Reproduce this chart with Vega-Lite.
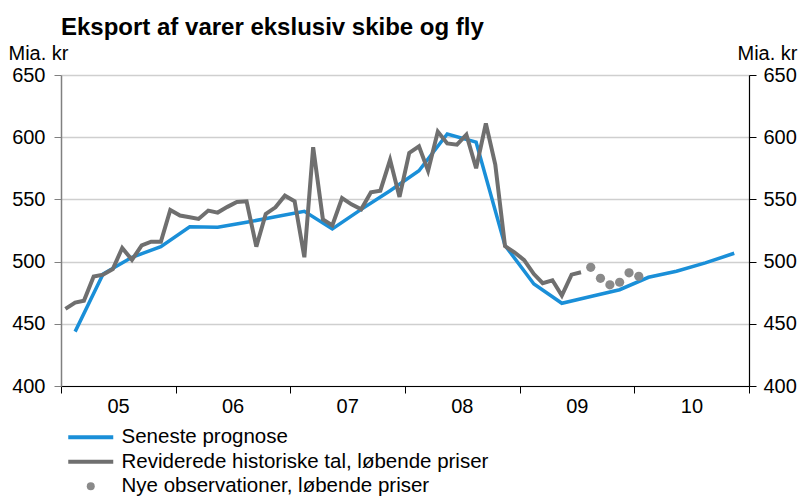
{
  "$schema": "https://vega.github.io/schema/vega-lite/v6.json",
  "width": 688,
  "height": 311,
  "autosize": {"type": "none"},
  "padding": {"left": 61, "top": 75, "right": 52, "bottom": 112},
  "background": "white",
  "config": {
    "font": "Liberation Sans",
    "view": {"stroke": null},
    "axis": {"labelFont": "Liberation Sans", "titleFont": "Liberation Sans", "labelColor": "#000", "titleColor": "#000"}
  },
  "title": {
    "text": "Eksport af varer ekslusiv skibe og fly",
    "anchor": "start",
    "frame": "group",
    "fontSize": 24,
    "fontWeight": "bold",
    "font": "Liberation Sans",
    "color": "#000",
    "offset": 3
  },
  "datasets": {
    "prognose": [
      {"date": "2005-02-15T00:00:00", "value": 443.7, "serie": "Seneste prognose"},
      {"date": "2005-05-15T00:00:00", "value": 490, "serie": "Seneste prognose"},
      {"date": "2005-08-15T00:00:00", "value": 503.5, "serie": "Seneste prognose"},
      {"date": "2005-11-15T00:00:00", "value": 512, "serie": "Seneste prognose"},
      {"date": "2006-02-15T00:00:00", "value": 528, "serie": "Seneste prognose"},
      {"date": "2006-05-15T00:00:00", "value": 527.6, "serie": "Seneste prognose"},
      {"date": "2006-08-15T00:00:00", "value": 531.6, "serie": "Seneste prognose"},
      {"date": "2006-11-15T00:00:00", "value": 536, "serie": "Seneste prognose"},
      {"date": "2007-02-15T00:00:00", "value": 540.4, "serie": "Seneste prognose"},
      {"date": "2007-05-15T00:00:00", "value": 526.3, "serie": "Seneste prognose"},
      {"date": "2007-08-15T00:00:00", "value": 542, "serie": "Seneste prognose"},
      {"date": "2007-11-15T00:00:00", "value": 557, "serie": "Seneste prognose"},
      {"date": "2008-02-15T00:00:00", "value": 573, "serie": "Seneste prognose"},
      {"date": "2008-05-15T00:00:00", "value": 602.6, "serie": "Seneste prognose"},
      {"date": "2008-08-15T00:00:00", "value": 596, "serie": "Seneste prognose"},
      {"date": "2008-11-15T00:00:00", "value": 513, "serie": "Seneste prognose"},
      {"date": "2009-02-15T00:00:00", "value": 482, "serie": "Seneste prognose"},
      {"date": "2009-05-15T00:00:00", "value": 466.5, "serie": "Seneste prognose"},
      {"date": "2009-08-15T00:00:00", "value": 472, "serie": "Seneste prognose"},
      {"date": "2009-11-15T00:00:00", "value": 477.4, "serie": "Seneste prognose"},
      {"date": "2010-02-15T00:00:00", "value": 487.4, "serie": "Seneste prognose"},
      {"date": "2010-05-15T00:00:00", "value": 492.2, "serie": "Seneste prognose"},
      {"date": "2010-08-15T00:00:00", "value": 499, "serie": "Seneste prognose"},
      {"date": "2010-11-15T00:00:00", "value": 506.7, "serie": "Seneste prognose"}
    ],
    "historisk": [
      {"date": "2005-01-15T00:00:00", "value": 462, "serie": "Reviderede historiske tal, løbende priser"},
      {"date": "2005-02-15T00:00:00", "value": 467, "serie": "Reviderede historiske tal, løbende priser"},
      {"date": "2005-03-15T00:00:00", "value": 468.6, "serie": "Reviderede historiske tal, løbende priser"},
      {"date": "2005-04-15T00:00:00", "value": 488, "serie": "Reviderede historiske tal, løbende priser"},
      {"date": "2005-05-15T00:00:00", "value": 489.5, "serie": "Reviderede historiske tal, løbende priser"},
      {"date": "2005-06-15T00:00:00", "value": 494, "serie": "Reviderede historiske tal, løbende priser"},
      {"date": "2005-07-15T00:00:00", "value": 511, "serie": "Reviderede historiske tal, løbende priser"},
      {"date": "2005-08-15T00:00:00", "value": 501.4, "serie": "Reviderede historiske tal, løbende priser"},
      {"date": "2005-09-15T00:00:00", "value": 513, "serie": "Reviderede historiske tal, løbende priser"},
      {"date": "2005-10-15T00:00:00", "value": 516, "serie": "Reviderede historiske tal, løbende priser"},
      {"date": "2005-11-15T00:00:00", "value": 516, "serie": "Reviderede historiske tal, løbende priser"},
      {"date": "2005-12-15T00:00:00", "value": 541.5, "serie": "Reviderede historiske tal, løbende priser"},
      {"date": "2006-01-15T00:00:00", "value": 537, "serie": "Reviderede historiske tal, løbende priser"},
      {"date": "2006-02-15T00:00:00", "value": 535.6, "serie": "Reviderede historiske tal, løbende priser"},
      {"date": "2006-03-15T00:00:00", "value": 534.3, "serie": "Reviderede historiske tal, løbende priser"},
      {"date": "2006-04-15T00:00:00", "value": 541, "serie": "Reviderede historiske tal, løbende priser"},
      {"date": "2006-05-15T00:00:00", "value": 539.4, "serie": "Reviderede historiske tal, løbende priser"},
      {"date": "2006-06-15T00:00:00", "value": 544, "serie": "Reviderede historiske tal, løbende priser"},
      {"date": "2006-07-15T00:00:00", "value": 548, "serie": "Reviderede historiske tal, løbende priser"},
      {"date": "2006-08-15T00:00:00", "value": 548.5, "serie": "Reviderede historiske tal, løbende priser"},
      {"date": "2006-09-15T00:00:00", "value": 512, "serie": "Reviderede historiske tal, løbende priser"},
      {"date": "2006-10-15T00:00:00", "value": 538.3, "serie": "Reviderede historiske tal, løbende priser"},
      {"date": "2006-11-15T00:00:00", "value": 543.6, "serie": "Reviderede historiske tal, løbende priser"},
      {"date": "2006-12-15T00:00:00", "value": 553, "serie": "Reviderede historiske tal, løbende priser"},
      {"date": "2007-01-15T00:00:00", "value": 548.5, "serie": "Reviderede historiske tal, løbende priser"},
      {"date": "2007-02-15T00:00:00", "value": 503.5, "serie": "Reviderede historiske tal, løbende priser"},
      {"date": "2007-03-15T00:00:00", "value": 592, "serie": "Reviderede historiske tal, løbende priser"},
      {"date": "2007-04-15T00:00:00", "value": 534, "serie": "Reviderede historiske tal, løbende priser"},
      {"date": "2007-05-15T00:00:00", "value": 529, "serie": "Reviderede historiske tal, løbende priser"},
      {"date": "2007-06-15T00:00:00", "value": 551, "serie": "Reviderede historiske tal, løbende priser"},
      {"date": "2007-07-15T00:00:00", "value": 546, "serie": "Reviderede historiske tal, løbende priser"},
      {"date": "2007-08-15T00:00:00", "value": 542, "serie": "Reviderede historiske tal, løbende priser"},
      {"date": "2007-09-15T00:00:00", "value": 555.7, "serie": "Reviderede historiske tal, løbende priser"},
      {"date": "2007-10-15T00:00:00", "value": 557, "serie": "Reviderede historiske tal, løbende priser"},
      {"date": "2007-11-15T00:00:00", "value": 581.8, "serie": "Reviderede historiske tal, løbende priser"},
      {"date": "2007-12-15T00:00:00", "value": 552, "serie": "Reviderede historiske tal, løbende priser"},
      {"date": "2008-01-15T00:00:00", "value": 587.4, "serie": "Reviderede historiske tal, løbende priser"},
      {"date": "2008-02-15T00:00:00", "value": 592.7, "serie": "Reviderede historiske tal, løbende priser"},
      {"date": "2008-03-15T00:00:00", "value": 573, "serie": "Reviderede historiske tal, løbende priser"},
      {"date": "2008-04-15T00:00:00", "value": 604.5, "serie": "Reviderede historiske tal, løbende priser"},
      {"date": "2008-05-15T00:00:00", "value": 595, "serie": "Reviderede historiske tal, løbende priser"},
      {"date": "2008-06-15T00:00:00", "value": 594, "serie": "Reviderede historiske tal, løbende priser"},
      {"date": "2008-07-15T00:00:00", "value": 602, "serie": "Reviderede historiske tal, løbende priser"},
      {"date": "2008-08-15T00:00:00", "value": 575, "serie": "Reviderede historiske tal, løbende priser"},
      {"date": "2008-09-15T00:00:00", "value": 611, "serie": "Reviderede historiske tal, løbende priser"},
      {"date": "2008-10-15T00:00:00", "value": 578, "serie": "Reviderede historiske tal, løbende priser"},
      {"date": "2008-11-15T00:00:00", "value": 512.5, "serie": "Reviderede historiske tal, løbende priser"},
      {"date": "2008-12-15T00:00:00", "value": 507.5, "serie": "Reviderede historiske tal, løbende priser"},
      {"date": "2009-01-15T00:00:00", "value": 501.2, "serie": "Reviderede historiske tal, løbende priser"},
      {"date": "2009-02-15T00:00:00", "value": 490, "serie": "Reviderede historiske tal, løbende priser"},
      {"date": "2009-03-15T00:00:00", "value": 482.6, "serie": "Reviderede historiske tal, løbende priser"},
      {"date": "2009-04-15T00:00:00", "value": 485, "serie": "Reviderede historiske tal, løbende priser"},
      {"date": "2009-05-15T00:00:00", "value": 472.7, "serie": "Reviderede historiske tal, løbende priser"},
      {"date": "2009-06-15T00:00:00", "value": 489.5, "serie": "Reviderede historiske tal, løbende priser"},
      {"date": "2009-07-15T00:00:00", "value": 491.4, "serie": "Reviderede historiske tal, løbende priser"}
    ],
    "nye": [
      {"date": "2009-08-15T00:00:00", "value": 495.4, "serie": "Nye observationer, løbende priser"},
      {"date": "2009-09-15T00:00:00", "value": 486.6, "serie": "Nye observationer, løbende priser"},
      {"date": "2009-10-15T00:00:00", "value": 481.3, "serie": "Nye observationer, løbende priser"},
      {"date": "2009-11-15T00:00:00", "value": 483.4, "serie": "Nye observationer, løbende priser"},
      {"date": "2009-12-15T00:00:00", "value": 491, "serie": "Nye observationer, løbende priser"},
      {"date": "2010-01-15T00:00:00", "value": 488.2, "serie": "Nye observationer, løbende priser"}
    ]
  },
  "resolve": {"axis": {"y": "independent"}},
  "layer": [
    {
      "data": {"name": "prognose"},
      "mark": {"type": "line", "strokeWidth": 3.5, "strokeJoin": "miter"},
      "encoding": {
        "x": {
          "field": "date", "type": "temporal",
          "scale": {"domain": [{"year": 2005, "month": 1, "date": 1}, {"year": 2011, "month": 1, "date": 1}]},
          "axis": {
            "title": null,
            "values": [{"year": 2005, "month": 1, "date": 1}, {"year": 2006, "month": 1, "date": 1}, {"year": 2007, "month": 1, "date": 1}, {"year": 2008, "month": 1, "date": 1}, {"year": 2009, "month": 1, "date": 1}, {"year": 2010, "month": 1, "date": 1}, {"year": 2011, "month": 1, "date": 1}],
            "labelExpr": "year(datum.value) >= 2011 ? '' : timeFormat(datum.value, '%y')",
            "labelOffset": 57,
            "labelFontSize": 20,
            "labelPadding": 3,
            "labelFlush": false,
            "labelBound": false,
            "labelOverlap": false,
            "tickSize": 7,
            "tickColor": "#000",
            "tickWidth": 1,
            "domainColor": "#000",
            "domainWidth": 1.2,
            "grid": false
          }
        },
        "y": {
          "field": "value", "type": "quantitative",
          "scale": {"domain": [400, 650], "nice": false, "zero": false},
          "axis": {
            "orient": "left",
            "values": [400, 450, 500, 550, 600, 650],
            "title": "Mia. kr",
            "titleAngle": 0,
            "titleAlign": "left",
            "titleBaseline": "alphabetic",
            "titleX": -53,
            "titleY": -16,
            "titleFontSize": 20,
            "titleFontWeight": "normal",
            "labelFontSize": 20,
            "labelPadding": 9,
            "tickSize": 7,
            "tickColor": "#808080",
            "domainColor": "#808080",
            "domainWidth": 1.5,
            "grid": true,
            "gridColor": "#cfcfcf",
            "gridWidth": 1.5
          }
        },
        "color": {
          "field": "serie", "type": "nominal",
          "scale": {
            "domain": ["Seneste prognose", "Reviderede historiske tal, løbende priser", "Nye observationer, løbende priser"],
            "range": ["#1a8fd8", "#6f6f6f", "#8a8a8a"]
          },
          "legend": {
            "orient": "none",
            "legendX": 19.5,
            "legendY": 352,
            "title": null,
            "direction": "vertical",
            "labelFont": "Liberation Sans",
            "labelFontSize": 20.5,
            "labelColor": "#000",
            "labelLimit": 600,
            "symbolSize": 64,
            "symbolType": "stroke",
            "symbolStrokeWidth": 4,
            "labelOffset": 20.5,
            "rowPadding": 3.5,
            "encode": {
              "symbols": {
                "update": {
                  "shape": {"signal": "datum.index == 2 ? 'circle' : 'stroke'"},
                  "size": {"signal": "datum.index == 2 ? 64 : 2025"},
                  "fill": {"signal": "datum.index == 2 ? '#8a8a8a' : 'transparent'"},
                  "stroke": {"signal": "datum.index == 0 ? '#1a8fd8' : datum.index == 1 ? '#6f6f6f' : 'transparent'"},
                  "strokeWidth": {"signal": "datum.index == 2 ? 0 : 4"},
                  "opacity": {"value": 1},
                  "fillOpacity": {"value": 1}
                }
              }
            }
          }
        }
      }
    },
    {
      "data": {"name": "historisk"},
      "mark": {"type": "line", "strokeWidth": 4, "strokeJoin": "miter"},
      "encoding": {
        "x": {"field": "date", "type": "temporal"},
        "y": {
          "field": "value", "type": "quantitative",
          "axis": {
            "orient": "right",
            "values": [400, 450, 500, 550, 600, 650],
            "title": "Mia. kr",
            "titleAngle": 0,
            "titleAlign": "right",
            "titleBaseline": "alphabetic",
            "titleX": 48,
            "titleY": -16,
            "titleFontSize": 20,
            "titleFontWeight": "normal",
            "labelFontSize": 20,
            "labelPadding": 7,
            "tickSize": 7,
            "tickColor": "#000",
            "domainColor": "#000",
            "domainWidth": 1.2,
            "grid": false
          }
        },
        "color": {"field": "serie", "type": "nominal"}
      }
    },
    {
      "data": {"name": "nye"},
      "mark": {"type": "point", "filled": true, "size": 85, "opacity": 1},
      "encoding": {
        "x": {"field": "date", "type": "temporal"},
        "y": {"field": "value", "type": "quantitative", "axis": null},
        "color": {"field": "serie", "type": "nominal"}
      }
    },
    {
      "mark": {"type": "rule", "color": "#555555", "strokeWidth": 1.5},
      "encoding": {
        "x": {"datum": {"year": 2009, "month": 7, "date": 15}, "type": "temporal"}
      }
    }
  ]
}
